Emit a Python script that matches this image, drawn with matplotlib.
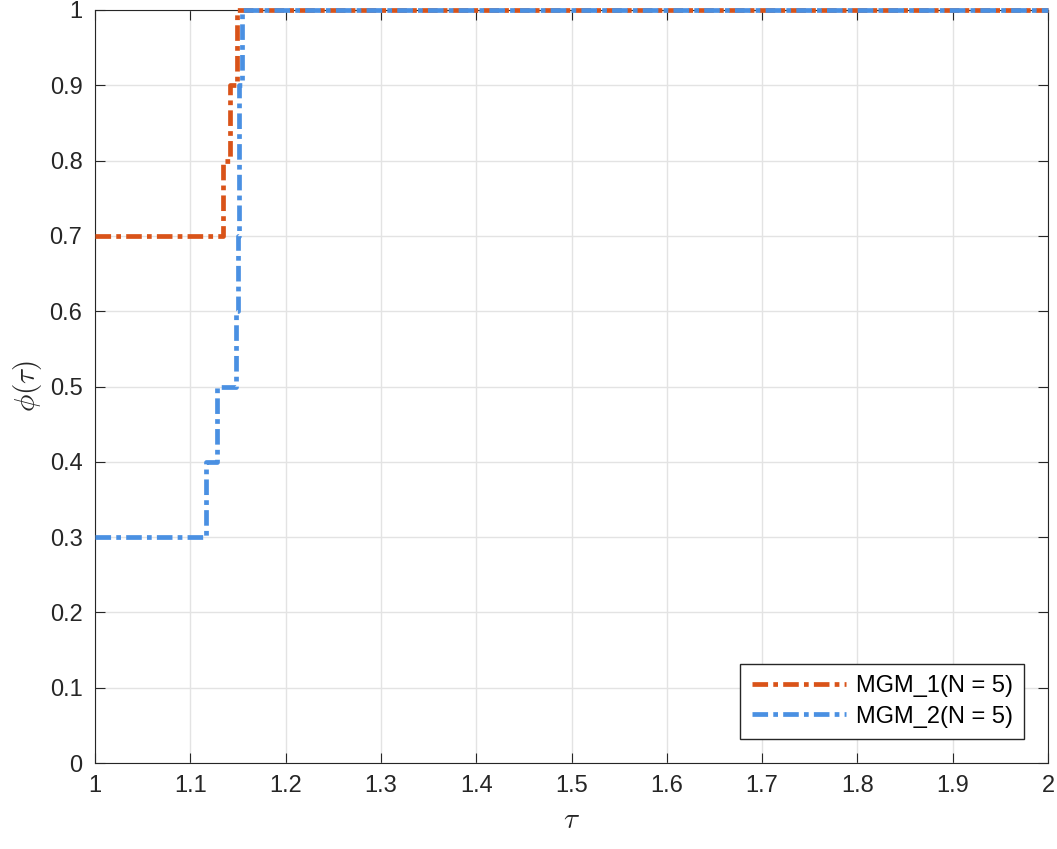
import numpy as np
import matplotlib.pyplot as plt

plt.rcParams['font.family'] = ['Liberation Sans', 'DejaVu Sans']
plt.rcParams['mathtext.fontset'] = 'cm'

# performance ratios per problem (10 problems)
ratios_mgm1 = [1.0, 1.0, 1.0, 1.0, 1.0, 1.0, 1.0, 1.134, 1.142, 1.149]
ratios_mgm2 = [1.0, 1.0, 1.0, 1.1165, 1.128, 1.148, 1.150, 1.151, 1.151, 1.154]
labels = ['MGM_1(N = 5)', 'MGM_2(N = 5)']
colors = ['#D95319', '#4A90E2']


def profile(r):
    r = np.sort(np.array(r))
    tau = np.concatenate([[1.0], r, [2.0]])
    phi = np.array([np.mean(r <= t) for t in tau])
    return tau, phi


fig = plt.figure(figsize=(10.57, 8.49), dpi=100)
ax = fig.add_axes([95 / 1057, 1 - 763 / 849, (1048 - 95) / 1057, (763 - 10) / 849])

for r, lab, c in zip([ratios_mgm1, ratios_mgm2], labels, colors):
    t, p = profile(r)
    ln, = ax.plot(t, p, drawstyle='steps-post', color=c, lw=3.4, label=lab,
                  clip_on=False, zorder=3)
    ln.set_dashes((3.3, 1.1, 1.0, 1.1))

ax.set_xlim(1, 2)
ax.set_ylim(0, 1)
ax.set_xticks(np.arange(1, 2.01, 0.1))
ax.set_xticklabels(['1', '1.1', '1.2', '1.3', '1.4', '1.5', '1.6', '1.7', '1.8', '1.9', '2'])
ax.set_yticks(np.arange(0, 1.01, 0.1))
ax.set_yticklabels(['0', '0.1', '0.2', '0.3', '0.4', '0.5', '0.6', '0.7', '0.8', '0.9', '1'])
ax.grid(True, color='#e3e3e3', lw=1)
ax.set_axisbelow(True)
ax.tick_params(direction='in', top=True, right=True, labelsize=17, colors='#262626',
               length=7, pad=9)
for s in ax.spines.values():
    s.set_color('#262626')
ax.set_xlabel(r'$\tau$', fontsize=21, color='#262626', labelpad=6)
ax.set_ylabel(r'$\phi(\tau)$', fontsize=21, color='#262626', labelpad=4)

leg = ax.legend(loc='lower right', fontsize=17, fancybox=False, edgecolor='#262626',
                framealpha=1, handlelength=4.0, handletextpad=0.4,
                borderaxespad=1.0, borderpad=0.5, labelspacing=0.35)
leg.get_frame().set_linewidth(1)

fig.savefig('out.png', dpi=100)
